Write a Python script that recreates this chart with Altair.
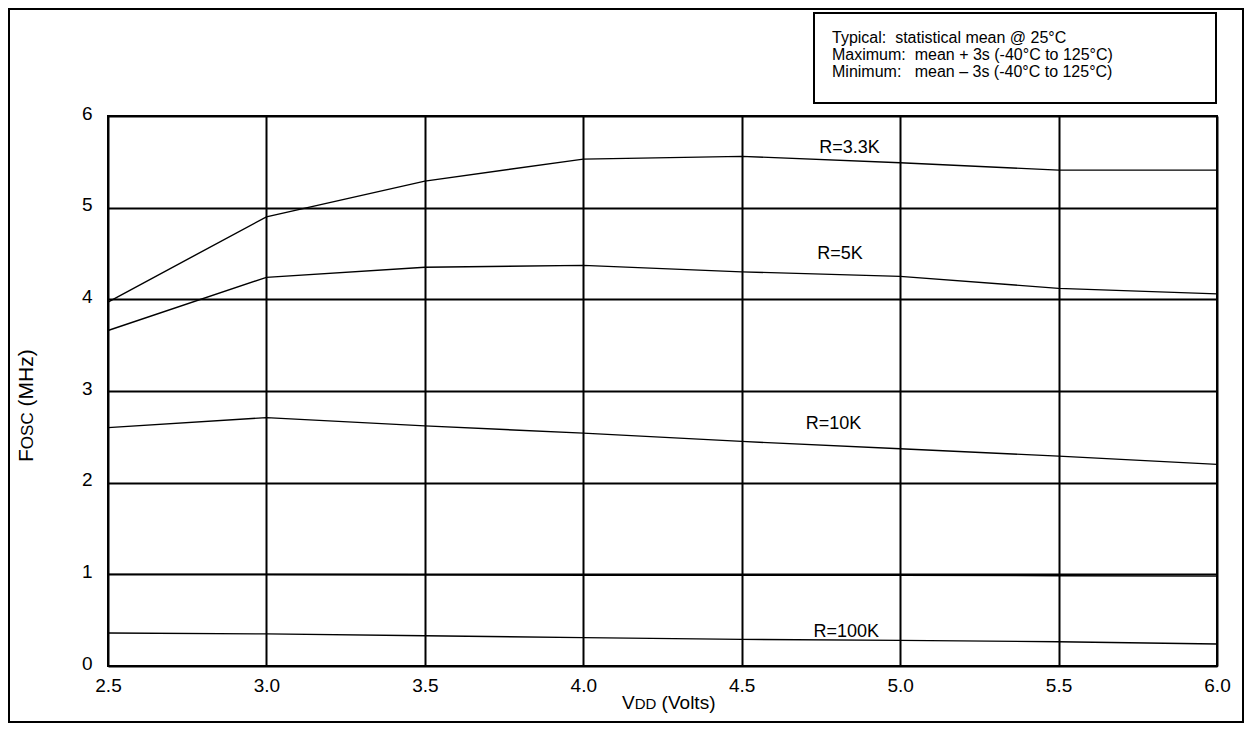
import altair as alt
import pandas as pd

FONT = "Liberation Sans, Arial, Helvetica, sans-serif"

# ---- data ----
vdd = [2.5, 3.0, 3.5, 4.0, 4.5, 5.0, 5.5, 6.0]
r_3k3 = [3.97, 4.90, 5.29, 5.53, 5.56, 5.49, 5.41, 5.41]
r_5k = [3.66, 4.24, 4.35, 4.37, 4.30, 4.25, 4.12, 4.06]
r_10k = [2.60, 2.71, 2.62, 2.54, 2.45, 2.37, 2.29, 2.20]
r_1m = [1.00, 1.00, 0.995, 0.99, 0.99, 0.99, 0.985, 0.98]
r_100k = [0.36, 0.35, 0.33, 0.31, 0.29, 0.28, 0.265, 0.24]

series_names = ["R=3.3K", "R=5K", "R=10K", "R=1M", "R=100K"]
series_vals = [r_3k3, r_5k, r_10k, r_1m, r_100k]

label_text = ["R=3.3K", "R=5K", "R=10K", "R=100K"]
label_x = [4.84, 4.81, 4.79, 4.83]
label_y = [5.60, 4.44, 2.585, 0.316]

x_ticks = vdd
y_ticks = [0, 1, 2, 3, 4, 5, 6]

NB = "\u00a0"
legend_lines = ["Typical:" + NB + NB + "statistical mean @ 25°C",
                "Maximum:" + NB + NB + "mean + 3s (-40°C to 125°C)",
                "Minimum:" + NB + NB + NB + "mean \u2013 3s (-40°C to 125°C)"]

rows = []
for name, vals in zip(series_names, series_vals):
    for xv, yv in zip(vdd, vals):
        rows.append({"series": name, "vdd": xv, "fosc": yv})
df = pd.DataFrame(rows)
lab_df = pd.DataFrame({"text": label_text, "vdd": label_x, "fosc": label_y})

W, H = 1109, 550

xscale = alt.Scale(domain=[2.5, 6.0], nice=False, zero=False)
yscale = alt.Scale(domain=[0, 6], nice=False, zero=True)

xaxis = alt.Axis(values=x_ticks, format=".1f", grid=True, ticks=False, domain=False,
                 title=None, labelFont=FONT, labelFontSize=19, labelColor="black",
                 labelPadding=10, labelFlush=False, labelOverlap=False,
                 gridColor="black", gridWidth=2, gridOpacity=1)
yaxis = alt.Axis(values=y_ticks, format="d", grid=True, ticks=False, domain=False,
                 title=None, labelFont=FONT, labelFontSize=19, labelColor="black",
                 labelPadding=16, labelOffset=-3, labelOverlap=False,
                 gridColor="black", gridWidth=2, gridOpacity=1)

one = pd.DataFrame({"k": [0]})

border = alt.Chart(one).mark_rect(fillOpacity=0, stroke="black", strokeWidth=2).encode(
    x=alt.value(-99), x2=alt.value(1135), y=alt.value(-107), y2=alt.value(606))

legend_box = alt.Chart(one).mark_rect(fill="white", stroke="black", strokeWidth=2).encode(
    x=alt.value(706), x2=alt.value(1108), y=alt.value(-103), y2=alt.value(-13))

lines = alt.Chart(df).mark_line(color="black", strokeWidth=1.4).encode(
    x=alt.X("vdd:Q", scale=xscale, axis=xaxis),
    y=alt.Y("fosc:Q", scale=yscale, axis=yaxis),
    detail="series:N",
)

labels = alt.Chart(lab_df).mark_text(font=FONT, fontSize=18, color="black",
                                     align="center", baseline="alphabetic").encode(
    x=alt.X("vdd:Q", scale=xscale), y=alt.Y("fosc:Q", scale=yscale), text="text:N")


def txt(s, px, py, fs, angle=0):
    d = pd.DataFrame({"t": [s]})
    m = dict(font=FONT, fontSize=fs, color="black", align="left", baseline="alphabetic")
    if angle:
        m["angle"] = angle
    return alt.Chart(d).mark_text(**m).encode(
        text="t:N", x=alt.value(px), y=alt.value(py))


layers = [border, legend_box, lines, labels]

# legend text
leg_y = [-73, -56, -39]
for s, yy in zip(legend_lines, leg_y):
    layers.append(txt(s, 724, yy, 16))

# x title: V DD (Volts) with small caps
xb, xs = 19, 15
x0 = 514
x1 = x0 + 0.667 * xb
x2 = x1 + 1.444 * xs + 0.278 * xb
layers.append(txt("V", x0, 593, xb))
layers.append(txt("DD", x1, 593, xs))
layers.append(txt("(Volts)", x2, 593, xb))

# y title: F OSC (MHz) rotated
yb, ys = 21, 17
y0 = 346
tx = -75
y1 = y0 - 0.611 * yb
y2 = y1 - 2.167 * ys - 0.278 * yb
layers.append(txt("F", tx, y0, yb, 270))
layers.append(txt("OSC", tx, y1, ys, 270))
layers.append(txt("(MHz)", tx, y2, yb, 270))

chart = alt.layer(*layers).properties(
    width=W, height=H,
    padding={"left": 100, "top": 108, "right": 27, "bottom": 57},
    autosize=alt.AutoSizeParams(type="none"),
    background="white",
).configure_view(stroke="black", strokeWidth=2)

chart.save("out.html", embed_options={"renderer": "svg", "actions": False})
